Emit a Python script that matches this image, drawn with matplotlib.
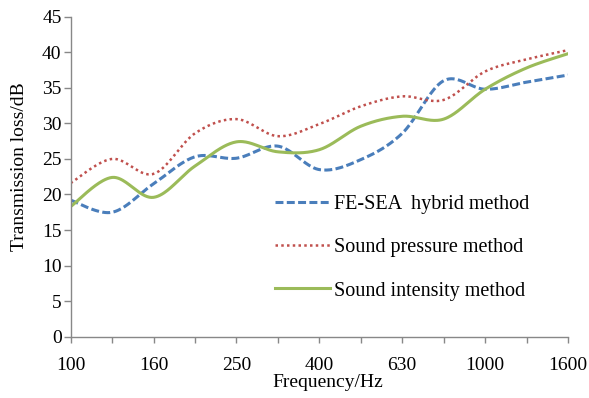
import matplotlib.pyplot as plt
import numpy as np

plt.rcParams['font.family'] = ['Liberation Serif', 'DejaVu Serif']

freqs = ['100', '125', '160', '200', '250', '315', '400', '500', '630',
         '800', '1000', '1250', '1600']
fe_sea = [19.2, 17.5, 21.5, 25.3, 25.1, 26.8, 23.5, 24.9, 28.6, 36.0, 34.8, 35.8, 36.8]
pressure = [21.6, 25.0, 22.9, 28.6, 30.6, 28.2, 29.9, 32.4, 33.8, 33.3, 37.3, 39.0, 40.3]
intensity = [18.3, 22.4, 19.6, 24.0, 27.4, 26.0, 26.3, 29.6, 31.0, 30.6, 34.8, 37.8, 39.8]


def smooth(y, n=40):
    # bezier smoothing between points, control points from neighbours
    x = np.arange(len(y), dtype=float)
    y = np.asarray(y, dtype=float)
    px = np.concatenate([[x[0]], x, [x[-1]]])
    py = np.concatenate([[y[0]], y, [y[-1]]])
    t = np.linspace(0, 1, n)[:, None]
    xs, ys = [], []
    for i in range(len(y) - 1):
        p0 = np.array([px[i + 1], py[i + 1]])
        p3 = np.array([px[i + 2], py[i + 2]])
        c1 = p0 + (p3 - np.array([px[i], py[i]])) / 6
        c2 = p3 - (np.array([px[i + 3], py[i + 3]]) - p0) / 6
        b = ((1 - t) ** 3 * p0 + 3 * (1 - t) ** 2 * t * c1
             + 3 * (1 - t) * t ** 2 * c2 + t ** 3 * p3)
        xs.append(b[:, 0])
        ys.append(b[:, 1])
    return np.concatenate(xs), np.concatenate(ys)


fig = plt.figure(figsize=(5.89, 3.98), dpi=100)
ax = fig.add_axes([0.1199, 0.154, 0.8445, 0.804])

sx, sy = smooth(fe_sea)
ax.plot(sx, sy, color='#4A7EBB', lw=2.2, linestyle=(0, (2.6, 1.1)),
        label='FE-SEA  hybrid method')
sx, sy = smooth(pressure)
ax.plot(sx, sy, color='#C0504D', lw=1.8, linestyle=(0, (1, 1.3)),
        label='Sound pressure method')
sx, sy = smooth(intensity)
ax.plot(sx, sy, color='#9BBB59', lw=2.2, label='Sound intensity method')

ax.set_xlim(0, len(freqs) - 1)
ax.set_ylim(0, 45)
ax.set_xticks(range(len(freqs)))
ax.set_xticklabels([f if i % 2 == 0 else '' for i, f in enumerate(freqs)])
ax.set_yticks(range(0, 46, 5))

for s in ['top', 'right']:
    ax.spines[s].set_visible(False)
for s in ['left', 'bottom']:
    ax.spines[s].set_color('#888888')
    ax.spines[s].set_linewidth(1)
ax.tick_params(axis='x', colors='#888888', labelcolor='black', length=4.3,
               width=1, pad=10.5, labelsize=14)
ax.tick_params(axis='y', colors='#888888', labelcolor='black', length=5,
               width=1, pad=1.5, labelsize=14)

ax.set_xlabel('Frequency/Hz', fontsize=14, va='top')
ax.xaxis.set_label_coords(0.5165, -0.118)
ax.set_ylabel('Transmission loss/dB', fontsize=14, va='center')
ax.yaxis.set_label_coords(-0.1027, 0.530)

ax.legend(loc='center left', bbox_to_anchor=(275 / 589, 1 - 247.7 / 398),
          bbox_transform=fig.transFigure, frameon=False, fontsize=14.5,
          handlelength=2.75, handletextpad=0.2, labelspacing=1.2,
          borderpad=0, borderaxespad=0)

fig.savefig('out.png', dpi=100)
